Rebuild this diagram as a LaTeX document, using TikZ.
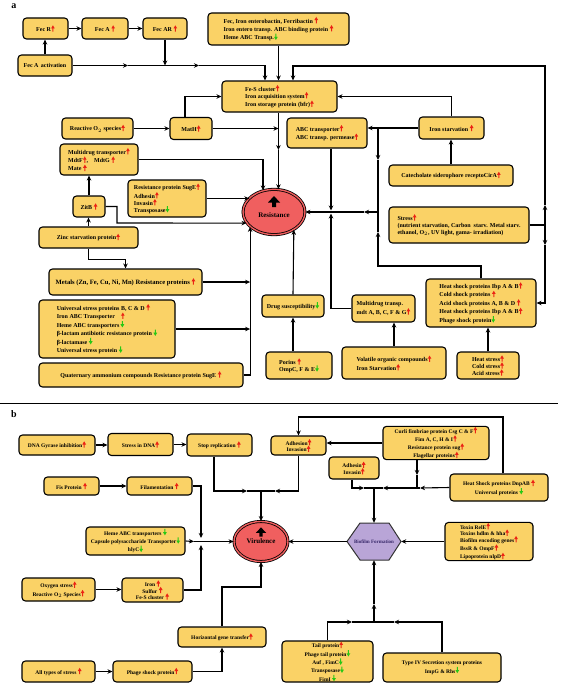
\documentclass[tikz,border=0pt]{standalone}
\usepackage{fontspec}
\setmainfont{Liberation Serif}
\usetikzlibrary{arrows.meta,shapes.geometric,calc}
\definecolor{boxfill}{RGB}{250,210,102}
\definecolor{upred}{RGB}{235,35,20}
\definecolor{dngreen}{RGB}{40,200,20}
\definecolor{resred}{RGB}{240,95,95}
\definecolor{biofill}{RGB}{185,165,215}
\definecolor{biotext}{RGB}{55,40,105}
\newcommand\UA{\tikz[baseline=-0.6pt,x=1pt,y=1pt,sharp corners]\fill[upred,draw=none] (-0.5,-0.8)--(0.5,-0.8)--(0.5,2.4)--(1.9,2.4)--(0,5.6)--(-1.9,2.4)--(-0.5,2.4)--cycle;}
\newcommand\DA{\tikz[baseline=-0.6pt,x=1pt,y=1pt,sharp corners]\fill[dngreen,draw=none] (-0.5,5.6)--(0.5,5.6)--(0.5,2.4)--(1.9,2.4)--(0,-0.8)--(-1.9,2.4)--(-0.5,2.4)--cycle;}
\newcommand\BigUp[1]{\tikz[baseline=0pt,x=#1pt,y=#1pt,sharp corners]\fill[black,draw=none] (-2,0)--(2,0)--(2,4.5)--(6,4.5)--(0,11)--(-6,4.5)--(-2,4.5)--cycle;}
\newcommand\fa{\bfseries\fontsize{6}{7}\selectfont}
\newcommand\fb{\bfseries\fontsize{5.5}{6.5}\selectfont}
\tikzset{
  box/.style={draw, line width=1.1pt, rounded corners=3.5pt, fill=boxfill, inner sep=0.5pt, font=\fa, align=center},
  lbox/.style={box, align=left},
  bbox/.style={box, font=\fb},
  lbbox/.style={box, font=\fb, align=left},
  arr/.style={line width=1.1pt, -{Stealth[length=5pt,width=4.5pt]}},
  ln/.style={line width=1.1pt},
  oval/.style={ellipse, draw, line width=0.8pt, double=resred, double distance=1.4pt, fill=resred, inner sep=0pt, align=center, font=\bfseries\fontsize{7}{7}\selectfont},
}
\begin{document}
\begin{tikzpicture}[x=1pt,y=-1pt]
\useasboundingbox (0,0) rectangle (560,685);
% ---------------- panel a ----------------
\node[font=\bfseries\fontsize{10}{10}\selectfont] (la) at (14,6) {a};
\node[box,minimum width=45,minimum height=21] (fecr) at (45.5,28.5) {Fec R\UA};
\node[box,minimum width=46,minimum height=21] (feca) at (105,28.5) {Fec A \UA};
\node[box,minimum width=44,minimum height=21] (fecar) at (165,28.5) {Fec AR \UA};
\node[box,minimum width=54,minimum height=21] (fecact) at (45,65.5) {Fec A\, activation};
\node[lbox,minimum width=141,minimum height=32] (iron) at (278.5,29) {Fec, Iron enterobactin, Ferribactin \UA\\Iron entero transp. ABC binding protein \UA\\Heme ABC Transp.\DA};
\node[lbox,minimum width=115,minimum height=31] (fes) at (279.5,96.5) {Fe-S cluster\UA\\Iron acquisition system\UA\\Iron storage protein (bfr)\UA};
\node[box,minimum width=71,minimum height=21] (ros) at (97.5,128.5) {Reactive O$_2$ species\UA};
\node[box,minimum width=42,minimum height=22] (math) at (191,128.5) {MatH\UA};
\node[lbox,minimum width=80,minimum height=30] (abc) at (327,133) {ABC transporter\UA\\ABC transp. permease\UA};
\node[box,minimum width=65,minimum height=22] (istarv) at (451.5,128) {Iron starvation \UA};
\node[lbox,minimum width=78,minimum height=31] (multi) at (99,159.5) {Multidrug transporter\UA\\MdtF\UA,\quad MdtG \UA\\Mate \UA};
\node[box,minimum width=124,minimum height=21] (catec) at (451,175.5) {Catecholate siderophore receptoCirA\UA};
\node[lbox,minimum width=78,minimum height=37] (suge) at (167,198.5) {Resistance protein SugE\UA\\Adhesin\UA\\Invasin\UA\\Transposase\DA};
\node[box,minimum width=32,minimum height=21] (zitb) at (89,206.5) {ZitB \UA};
\node[oval,minimum width=62,minimum height=40] (resist) at (274,212) {\BigUp{1}\\[3pt]Resistance\rule[-11pt]{0pt}{1pt}};
\node[lbox,minimum width=140,minimum height=36] (stress) at (459,225) {Stress\UA\\(nutrient starvation, Carbon\enspace starv. Metal starv.\\ethanol, O$_2$, UV light, gama- irradiation)};
\node[box,minimum width=99,minimum height=21] (zinc) at (88.5,237.5) {Zinc starvation protein\UA};
\node[box,minimum width=153,minimum height=26,font=\bfseries\fontsize{6.6}{7}\selectfont] (metals) at (125.5,282) {Metals (Zn, Fe, Cu, Ni, Mn) Resistance proteins \UA};
\node[box,minimum width=62,minimum height=22] (drug) at (293,306) {Drug susceptibility\DA};
\node[lbox,minimum width=63,minimum height=27] (mdt) at (383.5,308.5) {Multidrug transp.\\mdt A, B, C, F \& G\UA};
\node[lbox,minimum width=110,minimum height=48] (hshock) at (481,303) {Heat shock proteins Ibp A \& B\UA\\Cold shock proteins \UA\\Acid shock proteins A, B \& D \UA\\Heat shock proteins Ibp A \& B\UA\\Phage shock protein\DA};
\node[lbox,minimum width=136,minimum height=58] (univ) at (107,329) {Universal stress proteins B, C \& D \UA\\Iron ABC Transporter\quad\UA\\Heme ABC transporters\,\DA\\β-lactam antibiotic resistance protein \DA\\β-lactamase \DA\\Universal stress protein \DA};
\node[lbox,minimum width=66,minimum height=27] (porins) at (299,365.5) {Porins \UA\\OmpC, F \& E\DA};
\node[lbox,minimum width=104,minimum height=32] (volat) at (394,363) {Volatile organic compounds\UA\\Iron Starvation\UA};
\node[lbox,minimum width=62,minimum height=27] (hstress) at (488,365.5) {Heat stress\UA\\Cold stress\UA\\Acid stress\UA};
\node[box,minimum width=204,minimum height=24] (quat) at (141,375) {Quaternary ammonium compounds Resistance protein SugE \UA};
% connectors a
\draw[arr] (fecr) -- (feca);
\draw[arr] (feca) -- (fecar);
\draw[arr] (fecact.north) -- (fecact.north |- fecr.south);
\draw[arr] (fecact.east) -- (128,65.5);
\draw[arr] (128,65.5) -- (199,65.5);
\draw[arr] (199,65.5) -| ([xshift=-14.5pt]fes.north);
\draw[arr] (fecar.south) -- (fecar.south |- fecact.east);
\draw[arr] (iron.south) -- (iron.south |- fes.north);
\draw[ln] (stress.east) -- (545,225);
\draw[arr] (545,225) -- (545,205);
\draw[arr] (545,205) |- (293,66) -- ([xshift=13.5pt]fes.north);
\draw[arr] (545,225) -- (545,245);
\draw[arr] (545,245) |- (hshock.east);
\draw[arr] ([xshift=-6pt]math.north) |- (fes.west);
\draw[arr] (istarv.north) |- (fes.east);
\draw[arr] (ros.east) -- (ros.east -| math.west);
\draw[arr] (math.east) -- (math.east -| resist.79);
\draw[arr] (fes.south -| resist.79) -- (resist.79 |- 0,150);
\draw[arr] (resist.79 |- 0,150) -- (resist.79);
\draw[arr] (multi.east) -| (resist.117);
\draw[arr] (istarv.west) -- (istarv.west -| abc.east);
\draw[arr] (378,128) -- (378,160);
\draw[ln] (378,160) -- (378,212);
\draw[arr] ([xshift=4pt]abc.south) -- (331,210.5);
\draw[arr] (378,212) -- (364,212);
\draw[arr] (364,212) -- (resist.east);
\draw[arr] (hshock.north) |- (378,266) -- (378,232);
\draw[ln] (378,232) -- (378,212);
\draw[arr] (mdt.west) -| (331,213.5);
\draw[arr] (catec.north) -- (catec.north |- istarv.south);
\draw[arr] (suge.east) -- (suge.east -| resist.150);
\draw[arr] (zitb.east) -| (117,223) -- (resist.202);
\draw[arr] (zitb.north) -- (zitb.north |- multi.south);
\draw[arr] (zinc.north) -- (zinc.north |- zitb.south);
\draw[arr] (zinc.south) -- ++(0,11) -| (metals.north);
\draw[arr] (metals.east) -- (metals.east -| resist.212);
\draw[arr] (univ.east) -- (univ.east -| resist.212);
\draw[arr] (quat.east) -| (resist.212);
\draw[arr] (drug.north) -- (resist.318);
\draw[arr] (drug.south |- porins.north) -- (drug.south);
\draw[arr] (volat.north) -- (volat.north |- mdt.south);
\draw[arr] (hstress.north) -- (hstress.north |- hshock.south);
% divider
\draw[line width=1pt] (0,403) -- (558,403);
% ---------------- panel b ----------------
\node[font=\bfseries\fontsize{10}{10}\selectfont] (lb) at (14,414) {b};
\node[bbox,minimum width=76,minimum height=20] (gyr) at (57,445) {DNA Gyrase inhibition\UA};
\node[bbox,minimum width=65,minimum height=22] (sdna) at (140.5,444.5) {Stress in DNA\UA};
\node[bbox,minimum width=65,minimum height=22] (stop) at (219.5,445) {Stop replication \UA};
\node[bbox,minimum width=55,minimum height=19] (adh1) at (298.5,445.5) {Adhesion\UA\\Invasion\UA};
\node[bbox,minimum width=106,minimum height=32] (curli) at (436,443) {Curli fimbriae protein Csg C \& F\UA\\Fim A, C, H \& I\UA\\Resistance protein sug\UA\\Flagellar proteins\UA};
\node[bbox,minimum width=50,minimum height=22] (adh2) at (354,468) {Adhesin\UA\\Invasin\UA};
\node[bbox,minimum width=98,minimum height=27] (hsb) at (499,487.5) {Heat Shock proteins DnpAB \UA\\Universal proteins \DA};
\node[bbox,minimum width=55,minimum height=18] (fis) at (71.5,486) {Fis Protein \UA};
\node[bbox,minimum width=65,minimum height=18] (fil) at (159.5,486) {Filamentation \UA};
\node[bbox,minimum width=99,minimum height=28] (heme) at (135.5,541) {Heme ABC transporters \DA\\Capsule polysaccharide Transporter\DA\\hlyC\DA};
\node[oval,minimum width=54,minimum height=36] (vir) at (261,541.5) {\BigUp{0.85}\\[0pt]Virulence\rule[-12pt]{0pt}{1pt}};
\filldraw[fill=biofill, draw=black!80, line width=1pt] (347,541.5) -- (360,523) -- (389,523) -- (401,541.5) -- (389,560) -- (360,560) -- cycle;
\node[minimum width=54,minimum height=37,inner sep=0pt,text=biotext,font=\bfseries\fontsize{5}{6}\selectfont] (bio) at (374,541.5) {Biofilm Formation};
\node[lbbox,minimum width=88,minimum height=37] (toxin) at (489,541.5) {Toxin RelE\UA\\Toxins hdlm \& hha\UA\\Biofilm encoding genes\UA\\BssR \& OmpF\UA\\Lipoprotein nlpD\UA};
\node[bbox,minimum width=73,minimum height=23] (oxy) at (58.5,589.5) {Oxygen stress\UA\\Reactive O$_2$ Species\UA};
\node[bbox,minimum width=61,minimum height=24] (ironb) at (152.5,590) {Iron \UA\\Sulfur \UA\\Fe-S cluster \UA};
\node[bbox,minimum width=88,minimum height=20] (hgt) at (222,637) {Horizontal gene transfer\UA};
\node[bbox,minimum width=73,minimum height=21] (allst) at (58.5,671.5) {All types of stress \UA};
\node[bbox,minimum width=79,minimum height=21] (phage) at (152.5,671.5) {Phage shock protein\UA};
\node[bbox,minimum width=91,minimum height=41] (tail) at (327.5,661.5) {Tail protein\UA\\Phage tail protein\DA\\Auf , FimC\DA\\Transposase\DA\\FimI \DA};
\node[bbox,minimum width=118,minimum height=29] (t4) at (442,667.5) {Type IV Secretion system proteins\\ImpG \& Rhs\DA};
% connectors b
\draw[arr] (gyr.east) -- (gyr.east -| sdna.west);
\draw[arr] (sdna.east) -- (sdna.east -| stop.west);
\draw[arr] ([xshift=-5.5pt]stop.south) |- (247,491);
\draw[ln] (247,491) -- (261,491);
\draw[arr] (adh1.south) |- (275,491);
\draw[ln] (275,491) -- (261,491);
\draw[arr] (261,491) -- (vir.north);
\draw[arr] ([xshift=4pt]hsb.north) |- (298.5,417) -- (adh1.north);
\draw[arr] (curli.west) -- (curli.west -| adh1.east);
\draw[arr] ([xshift=-19pt]curli.south) -- (417,475);
\draw[ln] (417,475) -- (417,488);
\draw[arr] ([xshift=-2pt]adh2.south) |- (364,488);
\draw[ln] (364,488) -- (374,488);
\draw[arr] (hsb.west) -- (420,488);
\draw[ln] (420,488) -- (417,488);
\draw[arr] (417,488) -- (383,488);
\draw[ln] (383,488) -- (374,488);
\draw[arr] (374,488) -- (bio.north);
\draw[arr] (toxin.west) -- (bio.east);
\draw[arr] (bio.west) -- (vir.east);
\draw[arr] (fis.east) -- (fis.east -| fil.west);
\draw[arr] (fil.east) -| (201,538);
\draw[arr] (ironb.east) -| (201,545);
\draw[arr] (heme.east) -- (194,541.5);
\draw[arr] (194,541.5) -- (vir.west);
\draw[arr] (oxy.east) -- (oxy.east -| ironb.west);
\draw[arr] (hgt.north) |- (261,587) -- (vir.south);
\draw[arr] (allst) -- (phage);
\draw[arr] (phage.east) -| (hgt.south);
\draw[arr] (tail.north) |- (352,622);
\draw[ln] (352,622) -- (374,622);
\draw[arr] (t4.north) |- (394,622);
\draw[ln] (394,622) -- (374,622);
\draw[arr] (374,622) -- (374,604);
\draw[arr] (374,604) -- (bio.south);
\end{tikzpicture}
\end{document}
